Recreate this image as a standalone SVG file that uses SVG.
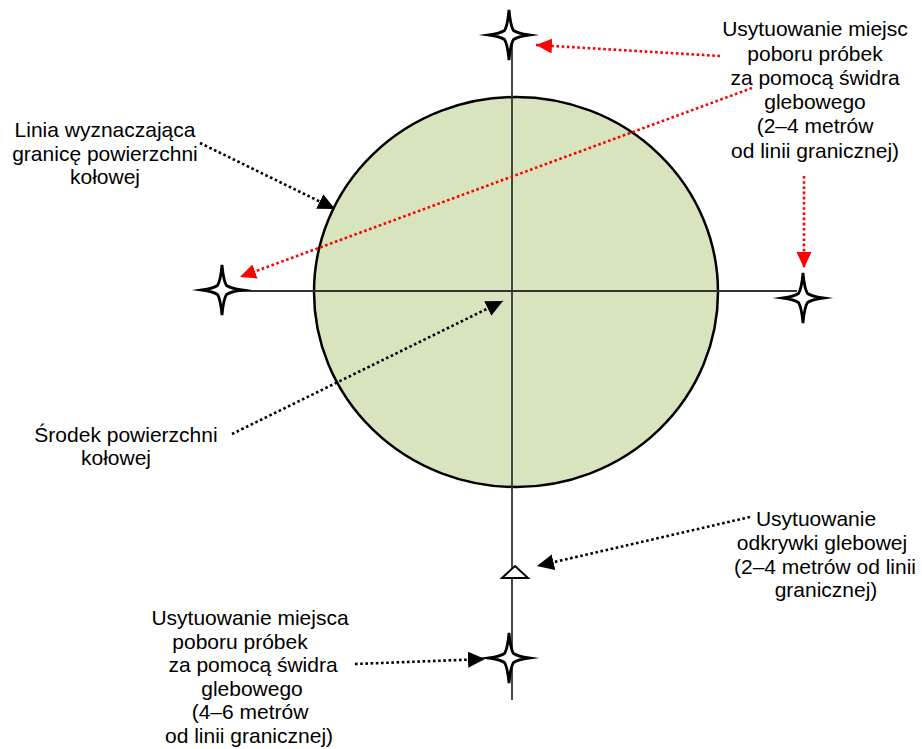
<svg xmlns="http://www.w3.org/2000/svg" width="922" height="749" viewBox="0 0 922 749">
  <style>
    .label { font-family: "Liberation Sans", Arial, sans-serif; font-size: 21px; fill: #000; text-anchor: middle; }
    .axis { stroke: #333; stroke-width: 1.8; fill: none; }
    .star { fill: #fff; stroke: #000; stroke-width: 2.8; stroke-linejoin: miter; stroke-miterlimit: 10; }
    .dot-red { stroke: #ff0000; stroke-width: 2.6; stroke-dasharray: 2.6 2.6; fill: none; }
    .dot-black { stroke: #000; stroke-width: 2.6; stroke-dasharray: 2.6 2.6; fill: none; }
  </style>
  <defs>
    <!-- four-pointed star with slightly concave sides -->
    <path id="star4" d="M0,-25 Q1.5,-9 4.5,-4.5 Q9,-1.5 20,0 Q9,1.5 4.5,4.5 Q1.5,9 0,25 Q-1.5,9 -4.5,4.5 Q-9,1.5 -20,0 Q-9,-1.5 -4.5,-4.5 Q-1.5,-9 0,-25 Z"/>
    <marker id="head-red" markerUnits="userSpaceOnUse" markerWidth="17" markerHeight="16" refX="16" refY="7.5" orient="auto">
      <path d="M0,0 L16,7.5 L0,15 Z" fill="#ff0000"/>
    </marker>
    <marker id="head-black" markerUnits="userSpaceOnUse" markerWidth="18" markerHeight="17" refX="17" refY="8" orient="auto">
      <path d="M0,0 L17,8 L0,16 Z" fill="#000"/>
    </marker>
  </defs>

  <rect width="922" height="749" fill="#fff"/>

  <!-- circular plot area -->
  <g id="plot">
    <ellipse cx="516" cy="292" rx="202" ry="195" fill="#d7e4bd" stroke="#000" stroke-width="2.5"/>
  </g>

  <!-- axes -->
  <g id="axes">
    <line class="axis" x1="512" y1="35" x2="512" y2="700"/>
    <line class="axis" x1="222" y1="291" x2="797" y2="291"/>
  </g>

  <!-- sampling points -->
  <g id="point-top"><use href="#star4" class="star" x="509" y="35"/></g>
  <g id="point-left"><use href="#star4" class="star" x="222" y="290"/></g>
  <g id="point-right"><use href="#star4" class="star" x="803" y="298"/></g>
  <g id="point-bottom"><use href="#star4" class="star" x="509" y="658"/></g>
  <g id="soil-pit"><path d="M515,566 L528,578 L502,578 Z" fill="#fff" stroke="#000" stroke-width="2"/></g>

  <!-- connectors -->
  <g id="connectors">
    <line class="dot-red" x1="720" y1="56" x2="536" y2="45" marker-end="url(#head-red)"/>
    <line class="dot-red" x1="752" y1="88" x2="240" y2="277" marker-end="url(#head-red)"/>
    <line class="dot-red" x1="804" y1="176" x2="804" y2="268" marker-end="url(#head-red)"/>
    <line class="dot-black" x1="200" y1="143" x2="335" y2="209" marker-end="url(#head-black)"/>
    <line class="dot-black" x1="232" y1="434" x2="503" y2="301" marker-end="url(#head-black)"/>
    <line class="dot-black" x1="750" y1="517" x2="537" y2="566" marker-end="url(#head-black)"/>
    <line class="dot-black" x1="355" y1="664" x2="485" y2="659" marker-end="url(#head-black)"/>
  </g>

  <!-- labels -->
  <g id="label-auger-2-4">
    <text class="label" x="815" y="36">Usytuowanie miejsc</text>
    <text class="label" x="815" y="60.5">poboru próbek</text>
    <text class="label" x="815" y="84.5">za pomocą świdra</text>
    <text class="label" x="815" y="109">glebowego</text>
    <text class="label" x="815" y="133">(2–4 metrów</text>
    <text class="label" x="815" y="157.5">od linii granicznej)</text>
  </g>
  <g id="label-boundary">
    <text class="label" x="105" y="136.5">Linia wyznaczająca</text>
    <text class="label" x="105" y="160.5">granicę powierzchni</text>
    <text class="label" x="105" y="184">kołowej</text>
  </g>
  <g id="label-centre">
    <text class="label" x="126" y="442">Środek powierzchni</text>
    <text class="label" x="116" y="465">kołowej</text>
  </g>
  <g id="label-pit">
    <text class="label" x="816" y="526">Usytuowanie</text>
    <text class="label" x="822" y="550">odkrywki glebowej</text>
    <text class="label" x="825" y="573.5">(2–4 metrów od linii</text>
    <text class="label" x="826" y="597">granicznej)</text>
  </g>
  <g id="label-auger-4-6">
    <text class="label" x="250" y="625">Usytuowanie miejsca</text>
    <text class="label" x="240" y="648.5">poboru próbek</text>
    <text class="label" x="253" y="672">za pomocą świdra</text>
    <text class="label" x="252" y="695.5">glebowego</text>
    <text class="label" x="250" y="719">(4–6 metrów</text>
    <text class="label" x="249" y="742.5">od linii granicznej)</text>
  </g>
</svg>
